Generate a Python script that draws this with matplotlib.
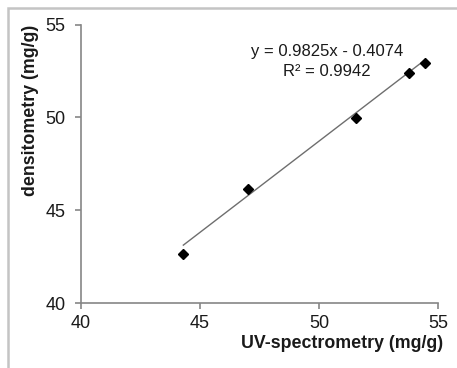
import numpy as np
import matplotlib
matplotlib.use("Agg")
import matplotlib.pyplot as plt
from matplotlib.patches import Rectangle

# ---- data ----
uv_spectrometry = [44.3, 47.0, 51.55, 53.8, 54.47]
densitometry = [42.62, 46.16, 49.98, 52.37, 52.94]
slope, intercept, r2 = 0.9825, -0.4074, 0.9942
x_ticks = [40, 45, 50, 55]
y_ticks = [40, 45, 50, 55]

plt.rcParams["font.family"] = ["Liberation Sans", "DejaVu Sans"]

fig = plt.figure(figsize=(4.57, 3.68), dpi=100)
ax = fig.add_axes([81 / 457, 1 - 303 / 368, 357 / 457, 278.5 / 368])

# light grey outer frame (cut off at right/bottom like the screenshot)
fig.patches.append(Rectangle((8 / 457, -0.05), 1.2, (368 - 8) / 368 + 0.05,
                             transform=fig.transFigure, fill=False,
                             edgecolor="#c4c4c4", lw=1.8))

ax.plot(uv_spectrometry, densitometry, "D", color="black", ms=5.5, zorder=3)

xs = np.array([min(uv_spectrometry), max(uv_spectrometry)])
ax.plot(xs, slope * xs + intercept, color="#6e6e6e", lw=1.0, zorder=2)

ax.text(50.34, 53.52, f"y = {slope}x - {abs(intercept)}", ha="center", va="center",
        fontsize=12, color="#1a1a1a")
ax.text(50.34, 52.49, f"R² = {r2}", ha="center", va="center",
        fontsize=12, color="#1a1a1a")

ax.set_xlim(40, 55)
ax.set_ylim(40, 55)
ax.set_xticks(x_ticks)
ax.set_yticks(y_ticks)
for s in ("top", "right"):
    ax.spines[s].set_visible(False)
for s in ("left", "bottom"):
    ax.spines[s].set_color("#868686")
    ax.spines[s].set_linewidth(1.2)
ax.tick_params(direction="out", length=4, width=1.2, color="#868686",
               labelsize=13, labelcolor="#1a1a1a")
ax.tick_params(axis="y", pad=7)
ax.tick_params(axis="x", pad=5)

ax.set_xlabel("UV-spectrometry (mg/g)", fontsize=12.8, fontweight="bold",
              color="#1a1a1a", ha="right", x=1.015, labelpad=2)
ax.set_ylabel("densitometry (mg/g)", fontsize=12.8, fontweight="bold",
              color="#1a1a1a", ha="right", y=1.0, labelpad=5)

fig.savefig("out.png", dpi=100)
